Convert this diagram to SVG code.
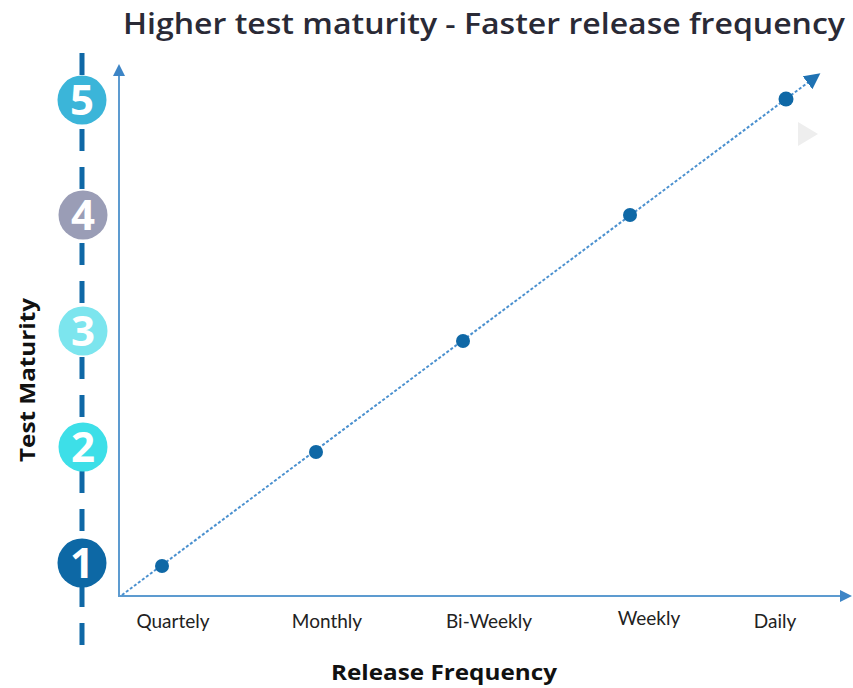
<svg xmlns="http://www.w3.org/2000/svg" width="853" height="688" viewBox="0 0 853 688">
  <style>
    .title { font-family: "Open Sans", "Noto Sans", sans-serif; font-weight: 600; font-size: 29px; fill: #2a2a36; }
    .tick { font-family: Lato, "Open Sans", sans-serif; font-size: 19px; fill: #222; text-anchor: middle; }
    .axis-title { font-family: "Open Sans", "Noto Sans", sans-serif; font-weight: 700; font-size: 22px; fill: #111; text-anchor: middle; }
    .level-num { font-family: "Open Sans", "Noto Sans", sans-serif; font-weight: 700; font-size: 42px; fill: #fff; text-anchor: middle; }
    .point { fill: #0f68a6; }
    .axis { stroke: #5d9bd0; stroke-width: 2; fill: none; }
  </style>
  <defs>
    <marker id="axisHead" viewBox="0 0 10 10" refX="5" refY="5" markerWidth="6" markerHeight="6" orient="auto">
      <path d="M0,0 L10,5 L0,10 z" fill="#3d85c6"/>
    </marker>
    <marker id="trendHead" viewBox="0 0 10 10" refX="5" refY="5" markerWidth="8" markerHeight="8" orient="auto">
      <path d="M0,0 L10,5 L0,10 z" fill="#1f72b3"/>
    </marker>
  </defs>

  <rect width="853" height="688" fill="#fff"/>

  <text class="title" x="123" y="34" textLength="722" lengthAdjust="spacingAndGlyphs">Higher test maturity - Faster release frequency</text>

  <!-- maturity scale -->
  <line x1="82" y1="53" x2="82" y2="650" stroke="#0f68a6" stroke-width="5" stroke-dasharray="22 16"/>
  <g id="level-5"><circle cx="82" cy="100" r="24.5" fill="#3bb5d9"/><text class="level-num" x="82" y="115">5</text></g>
  <g id="level-4"><circle cx="83" cy="215" r="24.5" fill="#9a9db6"/><text class="level-num" x="83" y="230">4</text></g>
  <g id="level-3"><circle cx="83" cy="331" r="24.5" fill="#7ce5ee"/><text class="level-num" x="83" y="346">3</text></g>
  <g id="level-2"><circle cx="83" cy="447" r="24.5" fill="#3ddfe8"/><text class="level-num" x="83" y="462">2</text></g>
  <g id="level-1"><circle cx="82" cy="563" r="24.5" fill="#0d68a5"/><text class="level-num" x="82" y="578">1</text></g>

  <!-- axes -->
  <g id="connectors">
    <line class="axis" x1="119" y1="597" x2="119" y2="70" marker-end="url(#axisHead)"/>
    <line class="axis" x1="118" y1="596" x2="846" y2="596" marker-end="url(#axisHead)"/>
    <line x1="122" y1="595" x2="814" y2="78" stroke="#4a90cf" stroke-width="2" stroke-dasharray="3 2" marker-end="url(#trendHead)"/>
  </g>

  <path d="M798,122 L818,134 L798,146 z" fill="#eeeeee"/>

  <g id="points">
    <circle class="point" cx="162" cy="566" r="7"/>
    <circle class="point" cx="316" cy="452" r="7"/>
    <circle class="point" cx="463" cy="341" r="7"/>
    <circle class="point" cx="630" cy="215" r="7"/>
    <circle class="point" cx="786" cy="99" r="7.5"/>
  </g>

  <text class="tick" x="173" y="628">Quartely</text>
  <text class="tick" x="327" y="628">Monthly</text>
  <text class="tick" x="489" y="628">Bi-Weekly</text>
  <text class="tick" x="649" y="625">Weekly</text>
  <text class="tick" x="775" y="628">Daily</text>

  <text class="axis-title" x="444" y="680" textLength="226" lengthAdjust="spacingAndGlyphs">Release Frequency</text>
  <text class="axis-title" transform="translate(35,380) rotate(-90)" textLength="164" lengthAdjust="spacingAndGlyphs">Test Maturity</text>
</svg>
